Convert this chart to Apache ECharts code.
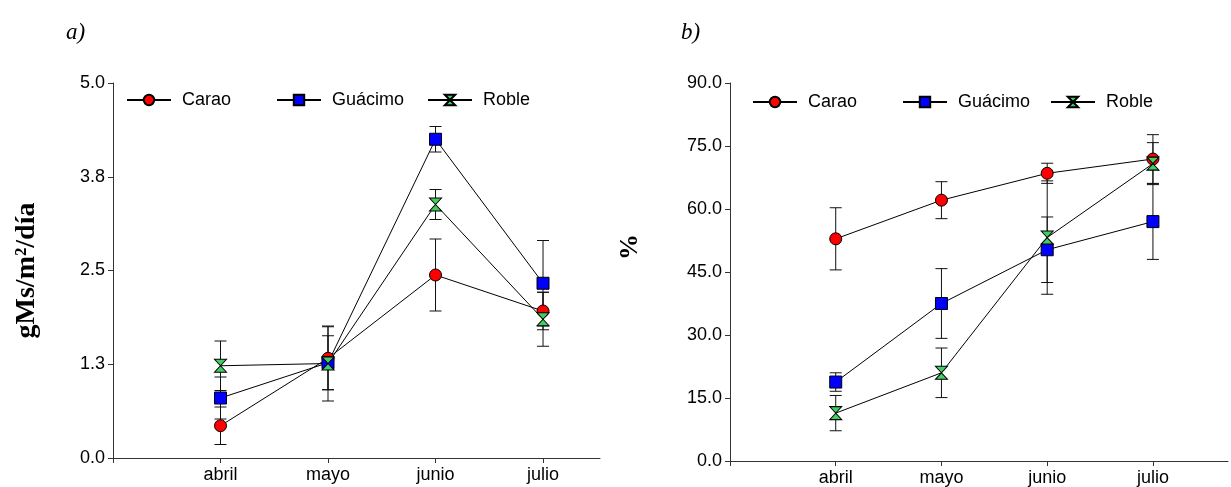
<!DOCTYPE html>
<html>
<head>
<meta charset="utf-8">
<script src="https://cdn.jsdelivr.net/npm/echarts@6/dist/echarts.min.js"></script>
<style>html,body{margin:0;padding:0;background:#fff}#c{width:1231px;height:487px}</style>
</head>
<body>
<div id="c"></div>
<script>
// ---- data ----
const months = ['abril', 'mayo', 'junio', 'julio'];
const seriesNames = ['Carao', 'Guácimo', 'Roble'];

// panel a) gMs/m2/día
const aCarao = [0.43, 1.33, 2.44, 1.96];
const aCaraoErr = [0.25, 0.42, 0.48, 0.25];
const aGuacimo = [0.80, 1.27, 4.25, 2.33];
const aGuacimoErr = [0.28, 0.36, 0.17, 0.57];
const aRoble = [1.23, 1.26, 3.38, 1.85];
const aRobleErr = [0.33, 0.50, 0.20, 0.36];
const aTicks = [0, 1.25, 2.5, 3.75, 5];

// panel b) %
const bCarao = [52.9, 62.1, 68.5, 71.9];
const bCaraoErr = [7.4, 4.4, 2.4, 5.8];
const bGuacimo = [18.8, 37.5, 50.3, 57.0];
const bGuacimoErr = [2.2, 8.3, 7.8, 9.0];
const bRoble = [11.4, 21.0, 53.2, 70.8];
const bRobleErr = [4.2, 5.9, 13.5, 5.0];
const bTicks = [0, 15, 30, 45, 60, 75, 90];

// ---- styles ----
const colors = ['#ff0000', '#0000ff', '#40d060'];
const symbols = ['circle', 'rect', 'path://M0,0L10,0L5,5ZM5,5L10,10L0,10Z'];
const symSizes = [12, 12, [12, 13]];
const sans = 'Arial, "Liberation Sans", sans-serif';
const serif = '"Times New Roman", "Liberation Serif", serif';
const fs = 18;

const chart = echarts.init(document.getElementById('c'));

function pts(vals) { return vals.map((v, i) => [i + 1, v]); }
function errs(vals, e) { return vals.map((v, i) => [i + 1, v - e[i], v + e[i]]); }

function errSeries(idx, vals, e) {
  return {
    type: 'custom', xAxisIndex: idx, yAxisIndex: idx, z: 1, silent: true,
    data: errs(vals, e),
    renderItem: function (params, api) {
      const x = api.value(0);
      const hi = api.coord([x, api.value(2)]);
      const lo = api.coord([x, api.value(1)]);
      const w = 6;
      const st = { stroke: '#111', lineWidth: 1 };
      return { type: 'group', children: [
        { type: 'line', shape: { x1: hi[0], y1: hi[1], x2: lo[0], y2: lo[1] }, style: st },
        { type: 'line', shape: { x1: hi[0] - w, y1: hi[1], x2: hi[0] + w, y2: hi[1] }, style: st },
        { type: 'line', shape: { x1: lo[0] - w, y1: lo[1], x2: lo[0] + w, y2: lo[1] }, style: st }
      ]};
    }
  };
}

function lineSeries(idx, k, vals) {
  return {
    name: seriesNames[k], type: 'line', xAxisIndex: idx, yAxisIndex: idx, z: 3,
    data: pts(vals), symbol: symbols[k], symbolSize: symSizes[k],
    showAllSymbol: true,
    lineStyle: { color: '#000', width: 1 },
    itemStyle: { color: colors[k], borderColor: '#000', borderWidth: 1 },
    emphasis: { disabled: true }
  };
}

function legendFor(left, top, k) {
  return {
    data: [seriesNames[k]], left: left, top: top, orient: 'horizontal',
    itemWidth: 44, itemHeight: 13, padding: 0, selectedMode: false,
    textStyle: { fontFamily: sans, fontSize: fs, color: '#000', padding: [0, 0, 0, 6] }
  };
}

function xAxisFor(idx, max) {
  return {
    type: 'value', gridIndex: idx, min: 0, max: max,
    axisLine: { lineStyle: { color: '#333', width: 1 } },
    axisTick: { show: true, length: 5, lineStyle: { color: '#333' }, customValues: [0, 1, 2, 3, 4] },
    axisLabel: { customValues: [1, 2, 3, 4], formatter: v => months[Math.round(v) - 1] || '',
      fontFamily: sans, fontSize: fs, color: '#000', margin: 8 },
    splitLine: { show: false }
  };
}

function yAxisFor(idx, ticks, name, nameGap, nameSize, namePad) {
  const step = ticks[1] - ticks[0];
  return {
    type: 'value', gridIndex: idx, min: ticks[0], max: ticks[ticks.length - 1], interval: step,
    name: name, nameLocation: 'middle', nameRotate: 90, nameGap: nameGap,
    nameTextStyle: { fontFamily: serif, fontWeight: 'bold', fontSize: nameSize, color: '#000', padding: namePad },
    axisLine: { show: true, lineStyle: { color: '#333', width: 1 } },
    axisTick: { show: true, length: 5, lineStyle: { color: '#333' } },
    axisLabel: { formatter: v => v.toFixed(1), fontFamily: sans, fontSize: fs, color: '#000', margin: 8 },
    splitLine: { show: false }
  };
}

const option = {
  animation: false,
  backgroundColor: '#fff',
  title: [
    { text: 'a)', left: 61, top: 16, textStyle: { fontFamily: serif, fontStyle: 'italic', fontWeight: 'normal', fontSize: 23, color: '#000' } },
    { text: 'b)', left: 676, top: 16, textStyle: { fontFamily: serif, fontStyle: 'italic', fontWeight: 'normal', fontSize: 23, color: '#000' } }
  ],
  legend: [
    legendFor(126, 91, 0), legendFor(276, 91, 1), legendFor(427, 91, 2),
    legendFor(752, 93, 0), legendFor(902, 93, 1), legendFor(1050, 93, 2)
  ],
  grid: [
    { left: 113, top: 83, width: 487, height: 375 },
    { left: 730, top: 83, width: 498, height: 380 }
  ],
  xAxis: [xAxisFor(0, 4.53), xAxisFor(1, 4.71)],
  yAxis: [
    yAxisFor(0, aTicks, 'gMs/m²/día', 72, 28, [0, 0, 0, 0]),
    yAxisFor(1, bTicks, '%', 87, 26, [0, 0, 0, 50])
  ],
  series: [
    errSeries(0, aCarao, aCaraoErr), errSeries(0, aGuacimo, aGuacimoErr), errSeries(0, aRoble, aRobleErr),
    lineSeries(0, 0, aCarao), lineSeries(0, 1, aGuacimo), lineSeries(0, 2, aRoble),
    errSeries(1, bCarao, bCaraoErr), errSeries(1, bGuacimo, bGuacimoErr), errSeries(1, bRoble, bRobleErr),
    lineSeries(1, 0, bCarao), lineSeries(1, 1, bGuacimo), lineSeries(1, 2, bRoble)
  ]
};
chart.setOption(option);
</script>
</body>
</html>
